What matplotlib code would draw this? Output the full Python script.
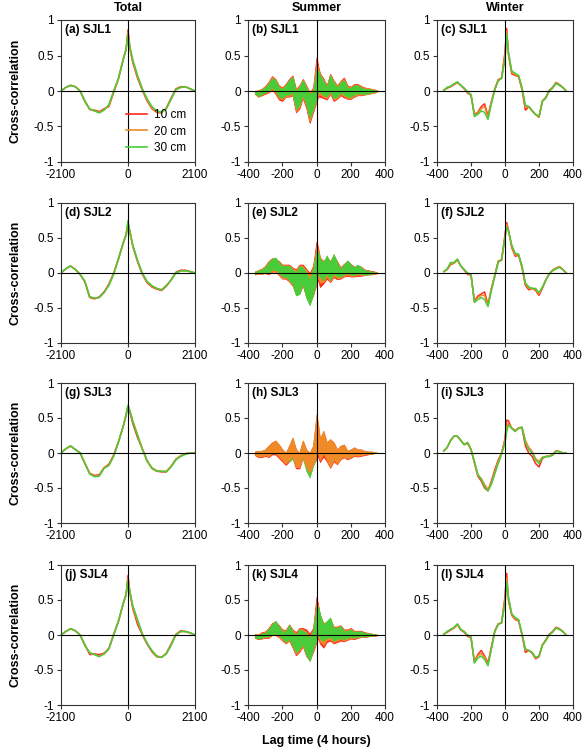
"""
    Cross-correlation panels: total / summer / winter for SJL1-SJL4
"""
import numpy as np
import matplotlib
matplotlib.use("Agg")
import matplotlib.pyplot as plt
from matplotlib.lines import Line2D

plt.rcParams['font.family'] = ['Liberation Sans', 'DejaVu Sans']
plt.rcParams['axes.unicode_minus'] = False

RED = "#ff2a1f"
ORANGE = "#f08a26"
GREEN = "#48cc3a"

depths = ["10 cm", "20 cm", "30 cm"]
sites = ["SJL1", "SJL2", "SJL3", "SJL4"]
col_titles = ["Total", "Summer", "Winter"]

# lag grids
x_total = [-2100, -1950, -1800, -1650, -1500, -1350, -1200, -1050, -900, -750, -600, -450, -300, -150, -60,
           0, 60, 150, 300, 450, 600, 750, 900, 1050, 1200, 1350, 1500, 1650, 1800, 1950, 2100]
x_season = [-360, -340, -320, -300, -280, -260, -240, -220, -200, -180, -160, -140, -120, -100, -80, -60, -40, -20,
            0, 10, 20, 40, 60, 80, 100, 120, 140, 160, 180, 200, 220, 240, 260, 280, 300, 320, 340, 360]

# ---- Total (a, d, g, j)
a_red = [0.00, 0.05, 0.08, 0.06, 0.00, -0.14, -0.26, -0.27, -0.29, -0.25, -0.22, -0.02, 0.17, 0.45, 0.58,
         0.86, 0.60, 0.40, 0.18, 0.01, -0.14, -0.25, -0.30, -0.31, -0.24, -0.10, 0.03, 0.06, 0.06, 0.03, 0.00]
a_orange = [0.00, 0.05, 0.08, 0.06, 0.00, -0.15, -0.26, -0.28, -0.30, -0.26, -0.21, -0.01, 0.17, 0.44, 0.59,
            0.83, 0.61, 0.42, 0.20, 0.02, -0.13, -0.24, -0.29, -0.30, -0.25, -0.11, 0.02, 0.05, 0.06, 0.03, 0.00]
a_green = [0.00, 0.05, 0.08, 0.06, 0.00, -0.15, -0.25, -0.28, -0.31, -0.27, -0.19, 0.00, 0.18, 0.44, 0.60,
           0.80, 0.62, 0.44, 0.22, 0.03, -0.11, -0.22, -0.28, -0.30, -0.25, -0.12, 0.02, 0.05, 0.06, 0.03, 0.00]

d_red = [0.00, 0.06, 0.10, 0.05, -0.02, -0.13, -0.35, -0.37, -0.34, -0.27, -0.16, 0.00, 0.20, 0.43, 0.54,
         0.68, 0.60, 0.38, 0.16, -0.02, -0.14, -0.20, -0.23, -0.25, -0.19, -0.10, 0.01, 0.04, 0.04, 0.02, 0.00]
d_orange = [0.00, 0.06, 0.10, 0.05, -0.02, -0.12, -0.34, -0.36, -0.35, -0.28, -0.17, -0.01, 0.20, 0.43, 0.55,
            0.71, 0.59, 0.39, 0.17, -0.01, -0.13, -0.19, -0.22, -0.24, -0.18, -0.10, 0.00, 0.03, 0.03, 0.02, 0.00]
d_green = [0.00, 0.06, 0.10, 0.05, -0.02, -0.12, -0.34, -0.36, -0.35, -0.28, -0.18, -0.02, 0.20, 0.43, 0.55,
           0.75, 0.58, 0.40, 0.18, 0.00, -0.12, -0.18, -0.22, -0.24, -0.18, -0.10, 0.00, 0.03, 0.03, 0.02, 0.00]

g_red = [0.00, 0.06, 0.10, 0.05, 0.00, -0.15, -0.29, -0.32, -0.31, -0.21, -0.16, -0.03, 0.16, 0.38, 0.54,
         0.67, 0.58, 0.42, 0.22, 0.06, -0.11, -0.22, -0.26, -0.27, -0.27, -0.19, -0.09, -0.04, -0.01, 0.00, 0.00]
g_orange = [0.00, 0.06, 0.10, 0.05, 0.00, -0.15, -0.29, -0.33, -0.32, -0.21, -0.17, -0.04, 0.16, 0.38, 0.55,
            0.68, 0.60, 0.46, 0.26, 0.06, -0.11, -0.21, -0.25, -0.26, -0.26, -0.19, -0.09, -0.04, -0.01, 0.00, 0.00]
g_green = [0.00, 0.06, 0.10, 0.05, 0.00, -0.15, -0.30, -0.34, -0.33, -0.22, -0.18, -0.05, 0.15, 0.38, 0.55,
           0.68, 0.60, 0.45, 0.25, 0.05, -0.12, -0.22, -0.26, -0.26, -0.27, -0.20, -0.10, -0.05, -0.02, 0.00, 0.00]

j_red = [0.00, 0.05, 0.09, 0.06, 0.00, -0.14, -0.28, -0.27, -0.28, -0.26, -0.19, 0.01, 0.19, 0.45, 0.57,
         0.85, 0.60, 0.38, 0.15, 0.00, -0.13, -0.24, -0.31, -0.32, -0.26, -0.13, 0.01, 0.06, 0.05, 0.03, 0.00]
j_orange = [0.00, 0.05, 0.09, 0.06, 0.00, -0.15, -0.26, -0.28, -0.30, -0.27, -0.20, 0.00, 0.20, 0.45, 0.58,
            0.81, 0.61, 0.40, 0.19, 0.01, -0.12, -0.23, -0.30, -0.32, -0.27, -0.14, 0.00, 0.05, 0.05, 0.03, 0.00]
j_green = [0.00, 0.05, 0.09, 0.06, 0.00, -0.15, -0.25, -0.28, -0.31, -0.27, -0.20, 0.00, 0.20, 0.45, 0.58,
           0.78, 0.62, 0.42, 0.22, 0.02, -0.12, -0.22, -0.30, -0.32, -0.27, -0.15, 0.00, 0.05, 0.05, 0.03, 0.00]

# ---- Summer (b, e, h, k): noisy curves, kept as upper / lower envelopes
b_red_hi = [0.00, 0.01, 0.03, 0.07, 0.13, 0.21, 0.17, 0.08, 0.05, 0.10, 0.17, 0.22, 0.03, 0.08, 0.17, 0.08, -0.02, 0.05,
            0.48, 0.35, 0.25, 0.18, 0.08, 0.24, 0.15, 0.08, 0.14, 0.19, 0.08, 0.06, 0.10, 0.10, 0.07, 0.05, 0.04, 0.03, 0.02, 0.00]
b_red_lo = [-0.04, -0.08, -0.06, -0.04, -0.02, 0.02, -0.04, -0.12, -0.14, -0.08, -0.08, -0.06, -0.30, -0.25, -0.10, -0.24, -0.45, -0.30,
            -0.15, -0.08, -0.08, -0.10, -0.12, -0.04, -0.14, -0.11, -0.06, -0.09, -0.11, -0.11, -0.08, -0.06, -0.06, -0.05, -0.04, -0.03, -0.02, 0.00]
b_orange_hi = [0.00, 0.01, 0.03, 0.06, 0.12, 0.20, 0.16, 0.07, 0.04, 0.09, 0.16, 0.21, 0.02, 0.07, 0.16, 0.07, -0.03, 0.03,
               0.40, 0.32, 0.24, 0.17, 0.07, 0.23, 0.14, 0.07, 0.13, 0.17, 0.07, 0.05, 0.09, 0.09, 0.06, 0.04, 0.04, 0.03, 0.02, 0.00]
b_orange_lo = [-0.04, -0.08, -0.05, -0.03, -0.01, 0.03, -0.02, -0.10, -0.12, -0.07, -0.07, -0.04, -0.28, -0.23, -0.08, -0.21, -0.42, -0.28,
               -0.13, -0.05, -0.05, -0.08, -0.10, -0.02, -0.12, -0.10, -0.04, -0.07, -0.10, -0.10, -0.07, -0.05, -0.05, -0.05, -0.04, -0.03, -0.02, 0.00]
b_green_hi = [0.00, 0.00, 0.02, 0.05, 0.10, 0.18, 0.15, 0.05, 0.03, 0.08, 0.15, 0.20, 0.00, 0.05, 0.15, 0.05, -0.05, 0.00,
              0.30, 0.28, 0.22, 0.15, 0.05, 0.22, 0.12, 0.05, 0.12, 0.15, 0.05, 0.04, 0.08, 0.08, 0.05, 0.03, 0.03, 0.02, 0.01, 0.00]
b_green_lo = [-0.03, -0.07, -0.04, -0.02, 0.00, 0.05, 0.00, -0.08, -0.10, -0.05, -0.05, -0.02, -0.25, -0.20, -0.05, -0.18, -0.38, -0.25,
              -0.10, 0.00, -0.02, -0.05, -0.08, 0.00, -0.10, -0.08, -0.02, -0.05, -0.08, -0.08, -0.05, -0.03, -0.04, -0.04, -0.03, -0.02, -0.01, 0.00]

e_red_hi = [0.02, 0.04, 0.06, 0.10, 0.17, 0.21, 0.20, 0.17, 0.12, 0.12, 0.12, 0.08, 0.05, 0.12, 0.12, 0.06, 0.00, 0.10,
            0.45, 0.35, 0.22, 0.17, 0.22, 0.17, 0.25, 0.17, 0.08, 0.13, 0.17, 0.13, 0.09, 0.10, 0.09, 0.05, 0.04, 0.03, 0.02, 0.00]
e_red_lo = [-0.02, -0.01, -0.01, 0.00, -0.02, 0.02, 0.02, -0.03, -0.08, -0.08, -0.12, -0.18, -0.30, -0.28, -0.18, -0.33, -0.42, -0.32,
            -0.15, -0.10, -0.20, -0.15, -0.08, -0.13, -0.06, -0.09, -0.08, -0.05, -0.04, -0.05, -0.05, -0.04, -0.04, -0.03, -0.02, -0.02, -0.01, 0.00]
e_orange_hi = [0.02, 0.04, 0.06, 0.09, 0.16, 0.21, 0.21, 0.16, 0.11, 0.11, 0.11, 0.07, 0.03, 0.11, 0.10, 0.04, -0.04, 0.08,
               0.38, 0.33, 0.21, 0.16, 0.23, 0.16, 0.26, 0.16, 0.07, 0.12, 0.17, 0.12, 0.08, 0.11, 0.08, 0.05, 0.03, 0.02, 0.01, 0.00]
e_orange_lo = [-0.02, -0.01, -0.01, 0.01, -0.01, 0.03, 0.03, -0.02, -0.07, -0.07, -0.11, -0.17, -0.31, -0.29, -0.17, -0.34, -0.44, -0.31,
               -0.13, -0.06, -0.14, -0.13, -0.05, -0.12, -0.04, -0.07, -0.07, -0.04, -0.02, -0.04, -0.04, -0.02, -0.03, -0.03, -0.02, -0.01, -0.01, 0.00]
e_green_hi = [0.02, 0.03, 0.05, 0.08, 0.15, 0.20, 0.22, 0.15, 0.10, 0.10, 0.10, 0.05, 0.00, 0.10, 0.08, 0.00, -0.10, 0.05,
              0.30, 0.30, 0.20, 0.15, 0.25, 0.15, 0.27, 0.15, 0.05, 0.12, 0.18, 0.12, 0.08, 0.12, 0.08, 0.04, 0.03, 0.02, 0.01, 0.00]
e_green_lo = [-0.01, 0.00, 0.00, 0.02, 0.00, 0.05, 0.05, 0.00, -0.05, -0.05, -0.10, -0.15, -0.32, -0.30, -0.15, -0.35, -0.46, -0.30,
              -0.10, 0.00, -0.05, -0.10, 0.00, -0.10, 0.00, -0.05, -0.05, -0.02, 0.00, -0.02, -0.03, 0.00, -0.02, -0.02, -0.02, -0.01, 0.00, 0.00]

h_red_hi = [0.02, 0.03, 0.03, 0.05, 0.10, 0.15, 0.17, 0.12, 0.05, 0.00, 0.10, 0.21, 0.05, 0.00, 0.17, 0.05, 0.00, 0.10,
            0.52, 0.38, 0.20, 0.30, 0.15, 0.19, 0.15, 0.05, 0.10, 0.12, 0.03, 0.05, 0.08, 0.05, 0.05, 0.03, 0.02, 0.02, 0.01, 0.00]
h_red_lo = [-0.03, -0.06, -0.06, -0.04, -0.06, -0.02, -0.02, -0.07, -0.12, -0.17, -0.12, -0.07, -0.22, -0.22, -0.07, -0.22, -0.30, -0.17,
            -0.08, -0.05, -0.13, -0.05, -0.12, -0.21, -0.12, -0.16, -0.09, -0.06, -0.09, -0.07, -0.04, -0.05, -0.04, -0.03, -0.02, -0.01, 0.00, 0.00]
h_orange_hi = [0.02, 0.03, 0.03, 0.05, 0.10, 0.15, 0.18, 0.12, 0.05, 0.00, 0.10, 0.22, 0.05, 0.00, 0.18, 0.05, 0.00, 0.10,
               0.56, 0.40, 0.20, 0.32, 0.15, 0.20, 0.15, 0.05, 0.10, 0.12, 0.03, 0.05, 0.08, 0.05, 0.05, 0.03, 0.02, 0.02, 0.01, 0.00]
h_orange_lo = [-0.02, -0.05, -0.05, -0.03, -0.05, 0.00, 0.00, -0.05, -0.10, -0.15, -0.10, -0.05, -0.20, -0.20, -0.05, -0.20, -0.28, -0.15,
               -0.05, 0.00, -0.10, 0.00, -0.10, -0.20, -0.10, -0.15, -0.08, -0.05, -0.08, -0.06, -0.03, -0.04, -0.03, -0.02, -0.01, -0.01, 0.00, 0.00]
h_green_hi = [0.01, 0.02, 0.03, 0.04, 0.08, 0.12, 0.14, 0.10, 0.03, -0.02, 0.05, 0.15, 0.02, 0.00, 0.12, 0.02, -0.08, 0.05,
              0.30, 0.25, 0.22, 0.18, 0.10, 0.12, 0.08, 0.03, 0.05, 0.06, 0.03, 0.03, 0.05, 0.04, 0.03, 0.02, 0.02, 0.01, 0.01, 0.00]
h_green_lo = [-0.02, -0.03, -0.02, -0.01, 0.00, 0.04, 0.05, 0.00, -0.06, -0.12, -0.12, -0.08, -0.18, -0.16, -0.06, -0.25, -0.35, -0.18,
              -0.05, 0.05, 0.05, 0.02, -0.06, -0.05, -0.02, -0.08, -0.04, -0.02, -0.04, -0.03, -0.02, -0.02, -0.02, -0.01, -0.01, -0.01, 0.00, 0.00]

k_red_hi = [0.01, 0.01, 0.04, 0.05, 0.10, 0.17, 0.19, 0.14, 0.08, 0.07, 0.15, 0.08, 0.04, 0.10, 0.10, 0.08, 0.02, 0.10,
            0.55, 0.42, 0.28, 0.17, 0.18, 0.22, 0.12, 0.12, 0.14, 0.08, 0.08, 0.10, 0.06, 0.06, 0.06, 0.04, 0.03, 0.02, 0.01, 0.00]
k_red_lo = [-0.04, -0.06, -0.05, -0.04, -0.04, 0.00, 0.00, -0.03, -0.08, -0.12, -0.08, -0.18, -0.29, -0.24, -0.16, -0.30, -0.36, -0.24,
            -0.10, -0.05, -0.12, -0.18, -0.10, -0.08, -0.12, -0.10, -0.08, -0.09, -0.07, -0.05, -0.06, -0.04, -0.03, -0.03, -0.02, -0.01, -0.01, 0.00]
k_orange_hi = [0.01, 0.01, 0.03, 0.04, 0.09, 0.16, 0.20, 0.13, 0.07, 0.06, 0.15, 0.07, 0.02, 0.09, 0.08, 0.05, -0.02, 0.08,
               0.47, 0.41, 0.29, 0.16, 0.19, 0.23, 0.11, 0.11, 0.13, 0.07, 0.07, 0.09, 0.05, 0.05, 0.05, 0.03, 0.02, 0.02, 0.01, 0.00]
k_orange_lo = [-0.04, -0.05, -0.05, -0.03, -0.03, 0.01, 0.01, -0.02, -0.07, -0.11, -0.07, -0.17, -0.27, -0.22, -0.15, -0.29, -0.37, -0.22,
               -0.08, -0.02, -0.09, -0.14, -0.07, -0.06, -0.10, -0.08, -0.06, -0.08, -0.06, -0.04, -0.05, -0.03, -0.03, -0.02, -0.02, -0.01, -0.01, 0.00]
k_green_hi = [0.00, 0.00, 0.02, 0.03, 0.08, 0.15, 0.20, 0.12, 0.05, 0.05, 0.14, 0.05, 0.00, 0.08, 0.06, 0.03, -0.05, 0.06,
              0.40, 0.40, 0.30, 0.15, 0.20, 0.25, 0.10, 0.10, 0.13, 0.05, 0.06, 0.08, 0.04, 0.05, 0.05, 0.03, 0.02, 0.02, 0.01, 0.00]
k_green_lo = [-0.03, -0.05, -0.04, -0.02, -0.02, 0.02, 0.02, 0.00, -0.05, -0.10, -0.05, -0.15, -0.25, -0.20, -0.13, -0.28, -0.37, -0.20,
              -0.05, 0.02, -0.05, -0.08, -0.04, -0.03, -0.08, -0.06, -0.04, -0.06, -0.04, -0.02, -0.04, -0.02, -0.02, -0.02, -0.01, -0.01, 0.00, 0.00]

# ---- Winter (c, f, i, l)
c_red = [0.01, 0.04, 0.06, 0.09, 0.12, 0.08, 0.03, -0.03, -0.06, -0.33, -0.30, -0.22, -0.18, -0.35, -0.15, 0.03, 0.16, 0.18,
         0.55, 0.88, 0.52, 0.24, 0.22, 0.20, 0.02, -0.27, -0.22, -0.28, -0.33, -0.37, -0.14, -0.09, 0.01, 0.05, 0.12, 0.09, 0.05, 0.00]
c_orange = [0.01, 0.05, 0.06, 0.10, 0.12, 0.08, 0.04, -0.02, -0.05, -0.34, -0.31, -0.25, -0.22, -0.37, -0.16, 0.02, 0.15, 0.18,
            0.50, 0.84, 0.54, 0.26, 0.23, 0.21, 0.03, -0.23, -0.22, -0.28, -0.33, -0.36, -0.14, -0.10, 0.00, 0.04, 0.11, 0.08, 0.05, 0.00]
c_green = [0.01, 0.05, 0.07, 0.10, 0.13, 0.08, 0.04, -0.01, -0.05, -0.36, -0.33, -0.28, -0.30, -0.40, -0.18, 0.02, 0.14, 0.18,
           0.45, 0.80, 0.55, 0.28, 0.25, 0.22, 0.05, -0.20, -0.22, -0.28, -0.33, -0.36, -0.15, -0.10, 0.00, 0.04, 0.11, 0.08, 0.05, 0.00]

f_red = [0.02, 0.05, 0.12, 0.14, 0.19, 0.10, 0.04, -0.02, -0.03, -0.40, -0.33, -0.30, -0.27, -0.45, -0.22, -0.03, 0.17, 0.18,
         0.55, 0.72, 0.62, 0.36, 0.24, 0.25, 0.08, -0.18, -0.24, -0.22, -0.25, -0.32, -0.22, -0.10, -0.01, 0.04, 0.07, 0.09, 0.05, 0.00]
f_orange = [0.02, 0.05, 0.13, 0.14, 0.19, 0.10, 0.05, -0.01, -0.02, -0.41, -0.35, -0.32, -0.32, -0.46, -0.23, -0.04, 0.16, 0.19,
            0.52, 0.69, 0.61, 0.38, 0.26, 0.26, 0.09, -0.16, -0.22, -0.22, -0.24, -0.30, -0.21, -0.10, -0.01, 0.04, 0.07, 0.09, 0.05, 0.00]
f_green = [0.02, 0.06, 0.15, 0.15, 0.20, 0.10, 0.05, 0.00, -0.02, -0.42, -0.38, -0.35, -0.38, -0.48, -0.25, -0.05, 0.15, 0.20,
           0.50, 0.65, 0.60, 0.40, 0.28, 0.27, 0.10, -0.14, -0.20, -0.22, -0.22, -0.28, -0.20, -0.10, -0.02, 0.03, 0.06, 0.08, 0.05, 0.00]

i_red = [0.03, 0.08, 0.18, 0.24, 0.24, 0.18, 0.12, 0.14, 0.05, -0.14, -0.33, -0.40, -0.50, -0.54, -0.40, -0.24, -0.10, 0.00,
         0.20, 0.47, 0.46, 0.35, 0.31, 0.36, 0.36, 0.10, 0.00, -0.05, -0.15, -0.20, -0.08, -0.05, -0.05, -0.03, 0.03, 0.02, 0.00, 0.00]
i_orange = [0.03, 0.08, 0.18, 0.24, 0.24, 0.18, 0.12, 0.15, 0.05, -0.13, -0.32, -0.36, -0.45, -0.52, -0.42, -0.27, -0.12, 0.00,
            0.18, 0.38, 0.42, 0.36, 0.32, 0.36, 0.37, 0.18, 0.08, 0.02, -0.08, -0.12, -0.06, -0.05, -0.04, -0.02, 0.03, 0.02, 0.00, 0.00]
i_green = [0.03, 0.08, 0.18, 0.24, 0.24, 0.18, 0.12, 0.15, 0.05, -0.12, -0.30, -0.38, -0.48, -0.54, -0.45, -0.30, -0.15, -0.02,
           0.15, 0.30, 0.40, 0.35, 0.31, 0.35, 0.37, 0.15, 0.05, 0.00, -0.10, -0.15, -0.07, -0.05, -0.05, -0.03, 0.02, 0.02, 0.00, 0.00]

l_red = [0.01, 0.04, 0.07, 0.10, 0.15, 0.07, 0.04, -0.02, -0.04, -0.38, -0.28, -0.22, -0.30, -0.40, -0.17, 0.06, 0.16, 0.17,
         0.55, 0.88, 0.50, 0.28, 0.22, 0.20, 0.00, -0.25, -0.22, -0.26, -0.34, -0.31, -0.14, -0.07, 0.01, 0.05, 0.11, 0.09, 0.05, 0.00]
l_orange = [0.01, 0.05, 0.08, 0.10, 0.15, 0.08, 0.05, -0.01, -0.03, -0.39, -0.30, -0.26, -0.32, -0.42, -0.18, 0.05, 0.15, 0.18,
            0.50, 0.82, 0.52, 0.29, 0.23, 0.21, 0.01, -0.22, -0.22, -0.25, -0.33, -0.30, -0.14, -0.08, 0.00, 0.04, 0.10, 0.08, 0.05, 0.00]
l_green = [0.01, 0.05, 0.08, 0.11, 0.16, 0.08, 0.05, 0.00, -0.02, -0.40, -0.33, -0.30, -0.35, -0.44, -0.20, 0.05, 0.15, 0.18,
           0.45, 0.75, 0.55, 0.30, 0.25, 0.22, 0.02, -0.20, -0.22, -0.25, -0.32, -0.30, -0.15, -0.08, 0.00, 0.04, 0.10, 0.08, 0.05, 0.00]

total_series = [(a_red, a_orange, a_green), (d_red, d_orange, d_green),
                (g_red, g_orange, g_green), (j_red, j_orange, j_green)]
summer_series = [
    ((b_red_lo, b_red_hi), (b_orange_lo, b_orange_hi), (b_green_lo, b_green_hi)),
    ((e_red_lo, e_red_hi), (e_orange_lo, e_orange_hi), (e_green_lo, e_green_hi)),
    ((h_red_lo, h_red_hi), (h_orange_lo, h_orange_hi), (h_green_lo, h_green_hi)),
    ((k_red_lo, k_red_hi), (k_orange_lo, k_orange_hi), (k_green_lo, k_green_hi)),
]
winter_series = [(c_red, c_orange, c_green), (f_red, f_orange, f_green),
                 (i_red, i_orange, i_green), (l_red, l_orange, l_green)]
letters = ["a", "b", "c", "d", "e", "f", "g", "h", "i", "j", "k", "l"]

W, H = 585, 749
fig = plt.figure(figsize=(W / 100, H / 100), dpi=100)

col_px = [(61, 195), (248, 385), (437, 573)]
row_px = [(20, 162), (203, 343), (383, 523), (565, 705)]


def make_axes(r, c):
    x0, x1 = col_px[c]
    y0, y1 = row_px[r]
    ax = fig.add_axes([x0 / W, 1 - y1 / H, (x1 - x0) / W, (y1 - y0) / H])
    ax.set_ylim(-1, 1)
    ax.set_yticks([-1, -0.5, 0, 0.5, 1])
    ax.set_yticklabels(["-1", "-0.5", "0", "0.5", "1"])
    ax.tick_params(direction="out", length=3, width=0.8, labelsize=8.5, pad=2, color="#333333")
    for s in ax.spines.values():
        s.set_linewidth(0.8)
        s.set_color("#333333")
    ax.axhline(0, color="black", lw=0.8, zorder=5)
    ax.axvline(0, color="black", lw=0.8, zorder=5)
    ax.text(0.03, 0.97, f"({letters[r * 3 + c]}) {sites[r]}", transform=ax.transAxes,
            ha="left", va="top", fontsize=8.5, fontweight="bold", zorder=6)
    return ax


colors = [RED, ORANGE, GREEN]

for r in range(4):
    # total
    ax = make_axes(r, 0)
    for ys, col in zip(total_series[r], colors):
        ax.plot(x_total, ys, color=col, lw=1.1)
    ax.set_xlim(-2100, 2100)
    ax.set_xticks([-2100, 0, 2100])
    ax.set_ylabel("Cross-correlation", fontsize=9, fontweight="bold", labelpad=9)
    if r == 0:
        handles = [Line2D([], [], color=col, lw=1.2) for col in colors]
        ax.legend(handles, depths, loc="lower right", frameon=False, fontsize=8.5,
                  handlelength=1.8, handletextpad=0.6, labelspacing=0.35, borderaxespad=0.3)

    # summer
    ax = make_axes(r, 1)
    order = [0, 2, 1] if r == 2 else [0, 1, 2]
    for idx in order:
        lo, hi = summer_series[r][idx]
        ax.fill_between(x_season, lo, hi, color=colors[idx], lw=0.6, edgecolor=colors[idx])
    ax.set_xlim(-400, 400)
    ax.set_xticks([-400, -200, 0, 200, 400])

    # winter
    ax = make_axes(r, 2)
    for ys, col in zip(winter_series[r], colors):
        ax.plot(x_season, ys, color=col, lw=1.1)
    ax.set_xlim(-400, 400)
    ax.set_xticks([-400, -200, 0, 200, 400])

for c, title in enumerate(col_titles):
    x0, x1 = col_px[c]
    fig.text((x0 + x1) / 2 / W, 1 - 8 / H, title, ha="center", va="center",
             fontsize=9, fontweight="bold")

fig.text(316 / W, 2 / H, "Lag time (4 hours)", ha="center", va="bottom",
         fontsize=9, fontweight="bold")

fig.savefig("out.png", dpi=100)
